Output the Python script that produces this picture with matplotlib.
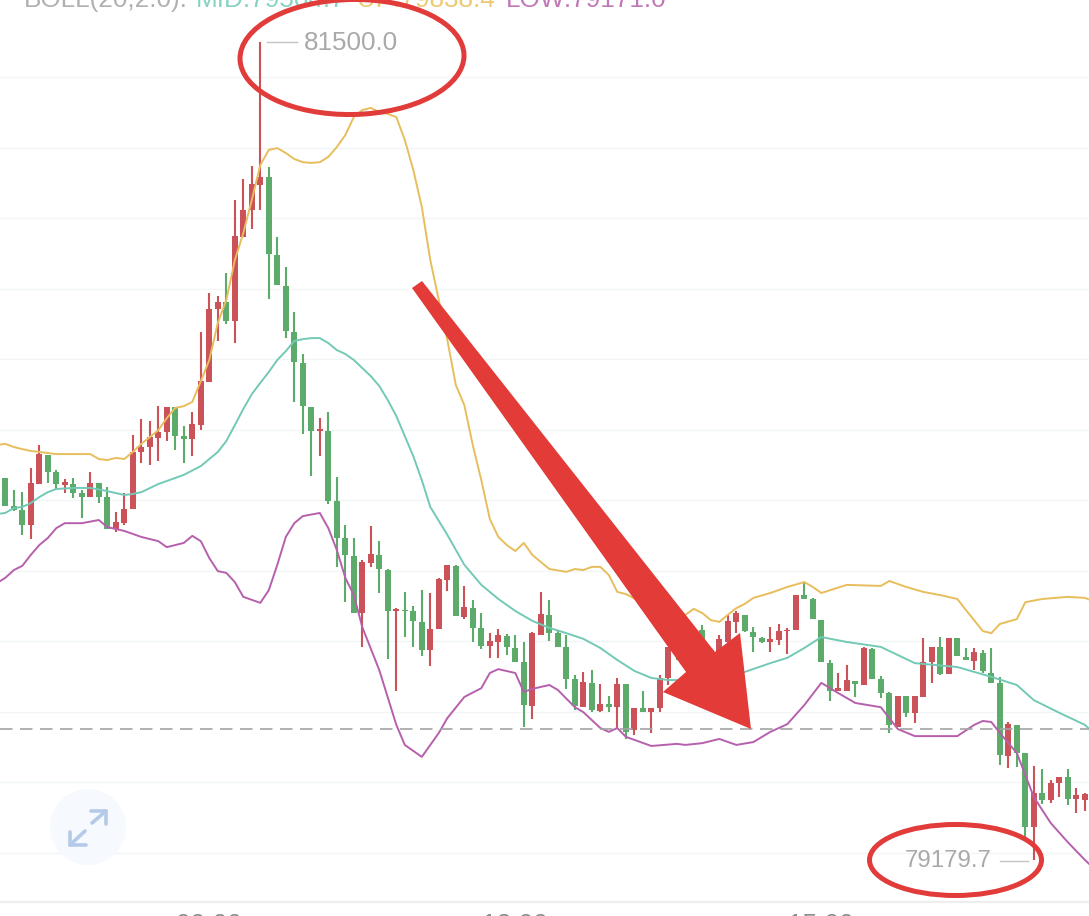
import matplotlib
matplotlib.use('Agg')
import matplotlib.pyplot as plt
import numpy as np

from matplotlib.patches import Circle, Ellipse, Polygon

plt.rcParams['font.family'] = ['Liberation Sans', 'DejaVu Sans']

# 5 minute candles
opens = [
    80263, 80184, 80172, 80130, 80246, 80328, 80280, 80243, 80246, 80220,
    80209, 80249, 80209, 80119, 80135, 80175, 80337, 80351, 80376, 80393,
    80464, 80382, 80374, 80413, 80535, 80743, 80762, 80708, 80947, 81023,
    81094, 81117, 80896, 80808, 80677, 80589, 80464, 80396, 80396, 80198,
    80093, 80042, 79880, 80022, 80045, 80002, 79886, 79889, 79886, 79855,
    79775, 79835, 79974, 80014, 79869, 79894, 79838, 79787, 79798, 79815,
    79781, 79741, 79616, 79818, 79875, 79823, 79784, 79693, 79613, 79682,
    79602, 79622, 79613, 79679, 79548, 79611, 79599, 79611, 79696, 79789,
    79761, 79818, 79832, 79741, 79747, 79798, 79855, 79875, 79826, 79809,
    79798, 79804, 79829, 79832, 79931, 79920, 79860, 79738, 79659, 79659,
    79687, 79676, 79778, 79693, 79653, 79557, 79645, 79597, 79642, 79741,
    79784, 79707, 79809, 79755, 79744, 79767, 79710, 79682, 79475, 79563,
    79483, 79273, 79370, 79350, 79398, 79415, 79353, 79350]
closes = [
    80184, 80172, 80130, 80249, 80331, 80280, 80246, 80252, 80220, 80209,
    80249, 80209, 80119, 80138, 80175, 80337, 80351, 80379, 80393, 80464,
    80382, 80374, 80416, 80538, 80743, 80762, 80708, 80950, 81023, 81097,
    81117, 80899, 80811, 80680, 80592, 80467, 80396, 80402, 80198, 80093,
    80045, 79880, 80025, 80048, 80005, 79886, 79891, 79886, 79858, 79775,
    79835, 79977, 80017, 79872, 79897, 79838, 79787, 79801, 79818, 79784,
    79741, 79619, 79823, 79877, 79823, 79784, 79693, 79616, 79684, 79605,
    79622, 79613, 79679, 79543, 79611, 79599, 79611, 79696, 79784, 79761,
    79804, 79775, 79789, 79775, 79807, 79857, 79880, 79829, 79812, 79798,
    79807, 79829, 79832, 79931, 79920, 79863, 79741, 79659, 79667, 79690,
    79679, 79781, 79693, 79653, 79563, 79645, 79597, 79645, 79741, 79784,
    79707, 79809, 79758, 79747, 79769, 79716, 79682, 79477, 79565, 79483,
    79273, 79370, 79350, 79398, 79415, 79353, 79364, 79367]
highs = [
    80263, 80229, 80223, 80291, 80356, 80328, 80286, 80260, 80263, 80229,
    80280, 80249, 80237, 80167, 80220, 80385, 80430, 80425, 80467, 80464,
    80464, 80411, 80450, 80677, 80788, 80779, 80845, 81052, 81111, 81148,
    81500, 81145, 80947, 80862, 80734, 80615, 80464, 80433, 80450, 80266,
    80130, 80093, 80030, 80127, 80084, 80005, 79894, 79940, 79900, 79945,
    79937, 79980, 80017, 80017, 79957, 79917, 79880, 79823, 79835, 79821,
    79818, 79798, 79826, 79940, 79917, 79832, 79818, 79704, 79713, 79718,
    79679, 79645, 79696, 79679, 79611, 79659, 79611, 79704, 79784, 79804,
    79818, 79832, 79846, 79781, 79818, 79874, 79886, 79875, 79840, 79812,
    79840, 79849, 79838, 79931, 79968, 79923, 79860, 79747, 79710, 79733,
    79687, 79784, 79781, 79701, 79656, 79645, 79645, 79645, 79809, 79784,
    79812, 79809, 79809, 79781, 79781, 79775, 79781, 79699, 79571, 79563,
    79483, 79446, 79438, 79406, 79415, 79438, 79384, 79370]
lows = [
    80184, 80169, 80102, 80090, 80246, 80249, 80229, 80220, 80206, 80150,
    80209, 80192, 80119, 80110, 80130, 80175, 80306, 80300, 80311, 80368,
    80342, 80306, 80325, 80399, 80535, 80652, 80700, 80646, 80947, 80969,
    81023, 80771, 80811, 80660, 80479, 80388, 80269, 80325, 80189, 80011,
    79911, 79880, 79784, 80011, 79937, 79750, 79659, 79812, 79784, 79758,
    79730, 79835, 79943, 79872, 79863, 79798, 79778, 79753, 79753, 79761,
    79741, 79557, 79580, 79818, 79801, 79784, 79665, 79605, 79613, 79599,
    79599, 79599, 79554, 79523, 79534, 79599, 79540, 79599, 79676, 79747,
    79747, 79761, 79775, 79724, 79733, 79789, 79823, 79826, 79770, 79795,
    79770, 79789, 79764, 79832, 79920, 79863, 79741, 79631, 79659, 79659,
    79642, 79676, 79693, 79639, 79540, 79557, 79585, 79568, 79642, 79682,
    79704, 79707, 79758, 79747, 79718, 79710, 79682, 79449, 79441, 79443,
    79245, 79180, 79338, 79341, 79358, 79335, 79313, 79318]

# bollinger bands, read at the candle numbers in the *_idx lists
up_idx = [-1, 0, 1, 2, 3, 4, 5, 6, 8, 10, 11, 12, 13, 14, 15, 16, 17, 18, 19, 20, 21, 22, 23, 24, 25,
          26, 27, 28, 29, 30, 31, 32, 33, 34, 35, 36, 37, 38, 39, 40, 41, 42, 43, 44, 45, 46, 47,
          48, 49, 50, 51, 52, 53, 54, 55, 56, 57, 58, 59, 60, 61, 62, 64, 66, 67, 68, 69, 70, 71,
          72, 73, 75, 76, 80, 81, 82, 83, 84, 85, 86, 87, 88, 90, 92, 94, 95, 96, 99, 103, 104,
          106, 108, 110, 112, 113, 115, 116, 117, 119, 120, 122, 125, 127, 128]
up_val = [80357, 80360, 80351, 80345, 80340, 80337, 80334, 80331, 80331, 80331, 80317, 80314, 80320, 80317,
          80337, 80360, 80379, 80399, 80433, 80462, 80467, 80479, 80538, 80598, 80703, 80768, 80881,
          80958, 81052, 81151, 81194, 81199, 81185, 81168, 81159, 81157, 81159, 81174, 81202, 81236,
          81287, 81307, 81313, 81301, 81296, 81287, 81222, 81137, 81032, 80881, 80768, 80655, 80527,
          80470, 80356, 80257, 80147, 80096, 80073, 80056, 80079, 80045, 80005, 79997, 80005, 80002,
          80011, 80011, 79988, 79940, 79934, 79909, 79894, 79875, 79892, 79880, 79860, 79855, 79875,
          79894, 79906, 79923, 79937, 79954, 79968, 79954, 79937, 79960, 79957, 79971, 79954, 79940,
          79931, 79920, 79889, 79829, 79823, 79849, 79863, 79911, 79920, 79926, 79923, 79914]
mid_idx = [-1, 0, 1, 2, 3, 4, 5, 6, 8, 10, 12, 14, 15, 16, 18, 21, 23, 25, 26, 27, 28, 29, 30, 31, 32,
           33, 34, 35, 36, 37, 38, 39, 40, 41, 43, 44, 45, 46, 47, 48, 49, 50, 52, 54, 56, 58, 60,
           62, 64, 66, 68, 70, 72, 74, 76, 78, 80, 82, 84, 86, 87, 90, 92, 94, 96, 99, 103, 105,
           107, 112, 116, 119, 121, 124, 127, 128]
mid_val = [80161, 80164, 80178, 80181, 80192, 80209, 80223, 80232, 80235, 80235, 80226, 80215, 80218, 80223,
           80246, 80272, 80297, 80337, 80368, 80413, 80459, 80501, 80533, 80564, 80598, 80623, 80652,
           80657, 80660, 80660, 80646, 80626, 80615, 80598, 80552, 80524, 80484, 80439, 80382, 80325,
           80257, 80181, 80102, 80017, 79960, 79920, 79886, 79858, 79838, 79823, 79807, 79781, 79747,
           79716, 79696, 79690, 79690, 79693, 79696, 79704, 79713, 79738, 79753, 79781, 79812, 79798,
           79784, 79761, 79738, 79727, 79699, 79676, 79633, 79597, 79563, 79540]
low_idx = [-1, 0, 1, 2, 3, 4, 5, 6, 7, 9, 11, 12, 14, 16, 18, 19, 21, 22, 23, 24, 25, 26, 27, 28, 30,
           31, 32, 33, 34, 35, 37, 38, 39, 40, 41, 42, 44, 46, 47, 49, 51, 52, 54, 56, 57, 58, 60,
           61, 62, 64, 65, 67, 68, 70, 71, 72, 73, 76, 79, 80, 82, 84, 86, 88, 90, 92, 94, 96, 98,
           100, 103, 105, 107, 112, 114, 115, 116, 117, 119, 121, 123, 125, 127, 128]
low_val = [79965, 79980, 80002, 80014, 80045, 80073, 80093, 80121, 80135, 80135, 80144, 80124, 80113, 80096,
           80084, 80067, 80079, 80099, 80084, 80036, 79999, 79994, 79968, 79926, 79909, 79945, 80017,
           80096, 80135, 80155, 80164, 80121, 80059, 79980, 79931, 79840, 79718, 79563, 79506, 79472,
           79540, 79582, 79642, 79667, 79710, 79721, 79710, 79656, 79665, 79676, 79662, 79613, 79599,
           79554, 79543, 79554, 79529, 79503, 79509, 79506, 79511, 79523, 79506, 79514, 79543, 79565,
           79619, 79682, 79653, 79625, 79613, 79551, 79531, 79531, 79563, 79574, 79571, 79540, 79483,
           79358, 79284, 79230, 79180, 79157]

grid_prices = [79200, 79400, 79600, 79800, 80000, 80200, 80400, 80600, 80800, 81000, 81200, 81400]
time_ticks = [24, 60, 96]
time_labels = ['09:00', '12:00', '15:00']
last_price = 79551
base_price = 79060
max_price = 81500.0
min_price = 79179.7

RED = '#cb5258'
GREEN = '#5cab6b'

fig = plt.figure(figsize=(10.89, 9.16), dpi=100)
ax = fig.add_axes([0, 0, 1, 1])
ax.set_xlim(-0.6235, 127.49)
ax.set_ylim(79020.7, 81619.1)
ax.axis('off')

ax.hlines(grid_prices, -1, 129, color='#f2f5f6', lw=1.0, zorder=1)
ax.hlines(base_price, -1, 129, color='#eeeeee', lw=1.6, zorder=1)

idx = np.arange(len(opens))
o = np.array(opens)
c = np.array(closes)
colors = [RED if cl >= op else GREEN for op, cl in zip(o, c)]
ax.vlines(idx, lows, highs, colors=colors, lw=1.5, zorder=2)
ax.bar(idx, np.abs(c - o), bottom=np.minimum(o, c), width=0.68, color=colors, zorder=2)

ax.plot(up_idx, up_val, color='#e8bd5c', lw=1.4, zorder=3)
ax.plot(mid_idx, mid_val, color='#72c9b6', lw=1.4, zorder=3)
ax.plot(low_idx, low_val, color='#b660ad', lw=1.4, zorder=3)

ax.axhline(last_price, color='#a3a3a3', lw=1.2, dashes=(7.5, 4.5), zorder=4)

# the reference crops these at the bottom edge
for t, lab in zip(time_ticks, time_labels):
    ax.text(t, 79029, lab, ha='center', va='top', fontsize=19, color='#8c8c8c')

# overlay in image pixels for the labels and the hand drawn marks
ov = fig.add_axes([0, 0, 1, 1])
ov.set_xlim(0, 1089)
ov.set_ylim(916, 0)
ov.axis('off')

for x, txt, col in [(24, 'BOLL(20,2.0):', '#b0b0b0'), (196, 'MID:79504.7', '#86d2c3'),
                    (357, 'UP:79838.4', '#ecca72'), (506, 'LOW:79171.0', '#c277b8')]:
    ov.text(x, 7, txt, ha='left', va='baseline', fontsize=18.8, color=col)

ov.plot([267, 297], [42, 42], color='#c4c4c4', lw=1.0)
ov.text(304, 43, f'{max_price:.1f}', ha='left', va='center', fontsize=18.7, color='#a9a9a9')
ov.plot([1000, 1028], [861, 861], color='#c4c4c4', lw=1.0)
ov.text(992, 861, f'{min_price:.1f}', ha='right', va='center', fontsize=17.3, color='#a9a9a9')

# expand button
ov.add_patch(Circle((88, 827), 38, fc='#f6f9fd', ec='none'))
for xs, ys in [([92, 106], [823, 811]), ([91, 106, 106], [811, 811, 824]),
               ([85, 70], [831, 845]), ([70, 70, 86], [832, 845, 845])]:
    ov.plot(xs, ys, color='#b5c9e8', lw=2.6, solid_capstyle='round', solid_joinstyle='round')

ov.add_patch(Ellipse((352, 57), 224, 115, angle=-1, fc='none', ec='#e13b3a', lw=3.6, zorder=6))
ov.add_patch(Ellipse((955.5, 860), 172, 71, fc='none', ec='#e13b3a', lw=3.6, zorder=6))
ov.add_patch(Polygon([(412, 288), (422, 281), (715, 652), (740, 633), (751, 729),
                      (663, 692), (686, 672)], closed=True, fc='#e23b38', ec='none', zorder=6))

fig.savefig('out.png', dpi=100, facecolor='white')
